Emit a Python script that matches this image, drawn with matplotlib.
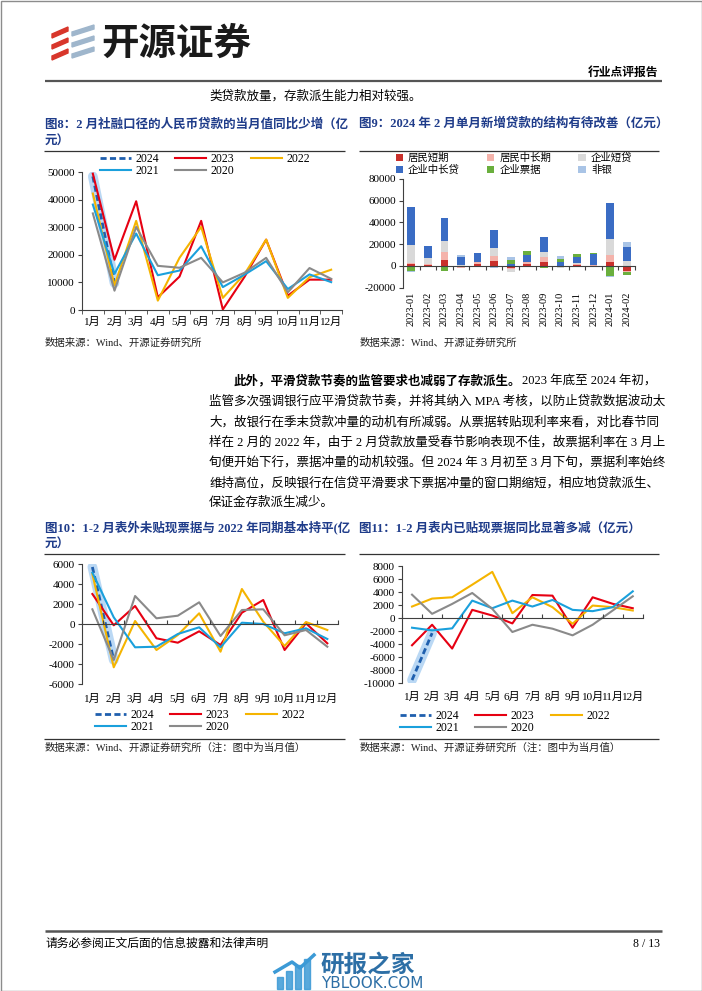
import numpy as np
import matplotlib
matplotlib.use("Agg")
import matplotlib.pyplot as plt
from matplotlib.patches import Polygon, Rectangle

W, H = 702, 991

plt.rcParams.update({
    "font.family": ["Liberation Serif", "Noto Sans CJK SC"],
    "font.size": 8,
    "axes.edgecolor": "#404040",
    "axes.linewidth": 0.8,
    "xtick.major.size": 3,
    "ytick.major.size": 3,
    "xtick.major.width": 0.8,
    "ytick.major.width": 0.8,
    "xtick.color": "#404040",
    "ytick.color": "#404040",
    "xtick.labelcolor": "black",
    "ytick.labelcolor": "black",
    "axes.unicode_minus": False,
})

# ---------------- data ----------------
months = ["1月", "2月", "3月", "4月", "5月", "6月", "7月", "8月", "9月", "10月", "11月", "12月"]
years = ["2024", "2023", "2022", "2021", "2020"]

# 图8 社融口径人民币贷款当月值（亿元）
loan_2024 = [48400, 9773]
loan_2023 = [49400, 18200, 39400, 4600, 12100, 32300, 200, 12000, 25500, 5200, 11000, 11000]
loan_2022 = [42200, 8900, 32300, 3400, 18900, 30100, 4400, 13000, 25500, 4400, 11900, 14600]
loan_2021 = [38200, 13100, 27700, 12600, 14300, 23100, 8300, 12800, 17700, 7600, 12900, 10100]
loan_2020 = [35000, 7000, 30100, 16000, 15300, 18900, 10000, 13500, 18900, 6400, 15200, 11300]

# 图9 新增贷款结构（亿元）
periods = ["2023-01", "2023-02", "2023-03", "2023-04", "2023-05", "2023-06", "2023-07",
           "2023-08", "2023-09", "2023-10", "2023-11", "2023-12", "2024-01", "2024-02"]
hh_short = [2233, 1156, 5850, 400, 1800, 4500, -1700, 2000, 3600, -1000, 800, 130, 3356, -4920]
hh_long = [339, 890, 6643, -1600, 1700, 4600, -700, 1600, 4600, -400, 1300, 930, 6445, -983]
corp_short = [17000, 5000, 10600, 600, 200, 7500, -3500, -1000, 5000, -300, 800, -1300, 14700, 4500]
corp_long = [34700, 11000, 20800, 6800, 8300, 16500, 2245, 6400, 13400, 3900, 5400, 9800, 33500, 13300]
bills = [-4843, 200, -4690, 0, -300, -500, 3630, 3500, -1500, 2500, 2700, 1100, -9222, -2700]
nonbank = [-357, -300, -300, 2000, 0, -1500, 2400, -400, -800, 3000, 0, 0, -700, 4000]
struct_labels = ["居民短期", "居民中长期", "企业短贷", "企业中长贷", "企业票据", "非银"]

# 图10 表外未贴现票据当月值（亿元）
undisc_2024 = [5700, -3600]
undisc_2023 = [3000, -130, 1800, -1430, -1870, -730, -2100, 1130, 2400, -2600, 70, -1930]
undisc_2022 = [5000, -4330, 300, -2600, -1100, 1070, -2770, 3500, 230, -2200, 200, -600]
undisc_2021 = [5130, 670, -2330, -2270, -1000, -330, -2330, 130, 0, -930, -430, -1500]
undisc_2020 = [1470, -3600, 2800, 570, 830, 2170, -1200, 1400, 1470, -1130, -600, -2270]

# 图11 表内已贴现票据当月值（亿元）
disc_2024 = [-9500, -2300]
disc_2023 = [-4160, -1015, -4670, 1270, 400, -810, 3550, 3450, -1470, 3200, 2200, 1520]
disc_2022 = [1780, 3000, 3200, 5130, 7100, 760, 3200, 1680, -860, 1930, 1680, 1170]
disc_2021 = [-1470, -1880, -1570, 2690, 1520, 2690, 1780, 2790, 1270, 1070, 1680, 4110]
disc_2020 = [3600, 660, 2180, 3860, 1420, -2130, -1015, -1620, -2640, -1015, 1170, 3350]

# ---------------- style ----------------
NAVY = "#1F3C8A"
C24, GLOW = "#1F5FAE", "#A9CFF2"
C23, C22, C21, C20 = "#E60012", "#F5B400", "#1AA0DC", "#8A8A8A"
BAR_COLORS = ["#C9302C", "#F4B3AB", "#D9D9D9", "#3A6CC4", "#6AAF3D", "#A9C4E6"]
CJK = "Noto Sans CJK SC"


def rect(l, t, r, b):
    return [l / W, 1 - b / H, (r - l) / W, (b - t) / H]


fig = plt.figure(figsize=(W / 100, H / 100), dpi=100)
page = fig.add_axes([0, 0, 1, 1])
page.set_xlim(0, W)
page.set_ylim(H, 0)
page.axis("off")


def hline(x0, x1, y, lw=0.9, color="#333333"):
    page.plot([x0, x1], [y, y], color=color, lw=lw, solid_capstyle="butt")


def title(x, ys, lines):
    for y, s in zip(ys, lines):
        page.text(x, y, s, color=NAVY, fontsize=9, fontweight="bold", va="center")


def source(x, y, s):
    page.text(x, y, s, fontsize=7.5, va="center", color="#222222")


def zero_axis(ax, n, direction):
    ax2 = ax.twiny()
    ax2.set_xlim(ax.get_xlim())
    for side in ["top", "right", "left"]:
        ax2.spines[side].set_visible(False)
    ax2.spines["bottom"].set_visible(True)
    ax2.spines["bottom"].set_position(("data", 0))
    ax2.xaxis.set_ticks_position("bottom")
    b = np.arange(-0.5, n, 1)
    ax2.set_xticks(b, labels=[""] * len(b))
    ax2.tick_params(axis="x", direction=direction, length=3)


def line_chart(r, series, ylim, yticks, zero_line, label_pad):
    ax = fig.add_axes(r)
    ax.set_facecolor("none")
    x = np.arange(12)
    v24 = series[0]
    ax.plot(x[:len(v24)], v24, color=GLOW, lw=7, alpha=0.8, solid_capstyle="round", zorder=1)
    handles = []
    h, = ax.plot(x[:len(v24)], v24, color=C24, lw=2, ls=(0, (2.2, 1.2)), zorder=2, label=years[0])
    handles.append(h)
    for vals, c, lab in zip(series[1:], [C23, C22, C21, C20], years[1:]):
        h, = ax.plot(x, vals, color=c, lw=1.5, zorder=3, label=lab)
        handles.append(h)
    ax.set_xlim(-0.5, 11.5)
    ax.set_ylim(*ylim)
    ax.set_yticks(yticks)
    ax.tick_params(axis="y", labelsize=8, pad=2)
    ax.set_xticks(x, labels=months)
    ax.tick_params(axis="x", length=0, labelsize=8, pad=label_pad)
    ax.spines["top"].set_visible(False)
    ax.spines["right"].set_visible(False)
    if zero_line:
        ax.spines["bottom"].set_visible(False)
        zero_axis(ax, 12, "in")
    else:
        ax.set_xticks(np.arange(-0.5, 12, 1), minor=True)
        ax.tick_params(axis="x", which="minor", length=3, direction="out")
    return ax, handles


def line_legend(ax, handles, cx, cy):
    order = [0, 3, 1, 4, 2]
    ax.legend([handles[i] for i in order], [years[i] for i in order], ncol=3,
              loc="center", bbox_to_anchor=(cx / W, 1 - cy / H), bbox_transform=fig.transFigure,
              frameon=False, fontsize=8.5, handlelength=2.6, handletextpad=0.4,
              columnspacing=1.4, labelspacing=0.05, borderpad=0)


# ---------------- header ----------------
page.add_patch(Rectangle((0.5, 0.5), W - 1, H - 1, fill=False, ec="#8C8C8C", lw=1))
for k in range(3):
    y0 = 27 + k * 11
    page.add_patch(Polygon([[52, y0 + 7], [68, y0], [68, y0 + 4], [52, y0 + 11]], color="#D8362B"))
    page.add_patch(Polygon([[72, y0 + 5], [94, y0 - 2], [94, y0 + 2], [72, y0 + 9]], color="#9FB6CC"))
page.text(101, 43, "开源证券", fontsize=27, fontweight="heavy", family=CJK, va="center", color="#1A1A1A")
page.text(658, 73, "行业点评报告", fontsize=8.5, fontweight="bold", ha="right", va="center")
hline(45, 662, 81, lw=1.6, color="#555555")
page.text(209, 96, "类贷款放量，存款派生能力相对较强。", fontsize=9, va="center")

# ---------------- 图8 ----------------
title(45, [124, 142], ["图8：2 月社融口径的人民币贷款的当月值同比少增（亿", "元）"])
hline(44, 345, 151)
ax8, h8 = line_chart(rect(82, 172, 342, 310),
                     [loan_2024, loan_2023, loan_2022, loan_2021, loan_2020],
                     (0, 50000), np.arange(0, 50001, 10000), False, 5)
line_legend(ax8, h8, 205, 165)
source(45, 343, "数据来源：Wind、开源证券研究所")

# ---------------- 图9 ----------------
title(359, [124], ["图9：2024 年 2 月单月新增贷款的结构有待改善（亿元）"])
hline(359, 659, 151)
ax9 = fig.add_axes(rect(403, 179, 635, 287.7))
ax9.set_facecolor("none")
xb = np.arange(len(periods))
pos = np.zeros(len(periods))
neg = np.zeros(len(periods))
bar_handles = []
for vals, c, lab in zip([hh_short, hh_long, corp_short, corp_long, bills, nonbank], BAR_COLORS, struct_labels):
    v = np.array(vals, dtype=float)
    base = np.where(v >= 0, pos, neg)
    b = ax9.bar(xb, v, bottom=base, width=0.47, color=c, label=lab, zorder=2)
    bar_handles.append(b)
    pos += np.clip(v, 0, None)
    neg += np.clip(v, None, 0)
ax9.set_xlim(-0.5, len(periods) - 0.5)
ax9.set_ylim(-20000, 80000)
ax9.set_yticks(np.arange(-20000, 80001, 20000))
ax9.tick_params(axis="y", labelsize=8, pad=2)
ax9.set_xticks(xb, labels=periods, rotation=90)
ax9.tick_params(axis="x", length=0, labelsize=7.5, pad=3)
for side in ["top", "right", "bottom"]:
    ax9.spines[side].set_visible(False)
zero_axis(ax9, len(periods), "out")
order9 = [0, 3, 1, 4, 2, 5]
ax9.legend([bar_handles[i] for i in order9], [struct_labels[i] for i in order9], ncol=3,
           loc="center", bbox_to_anchor=(514 / W, 1 - 164 / H), bbox_transform=fig.transFigure,
           frameon=False, fontsize=7.5, handlelength=0.7, handleheight=0.7, handletextpad=0.5,
           columnspacing=2.6, labelspacing=0.2, borderpad=0)
source(360, 343, "数据来源：Wind、开源证券研究所")

# ---------------- 正文 ----------------
body_y = [381, 401, 422, 442, 462, 483, 503]
t1 = page.text(234, body_y[0], "此外，平滑贷款节奏的监管要求也减弱了存款派生。", fontsize=9,
               fontweight="bold", va="center")
page.annotate("2023 年底至 2024 年初，", xy=(1, 0.5), xycoords=t1, fontsize=9, va="center")
body = [
    "监管多次强调银行应平滑贷款节奏，并将其纳入 MPA 考核，以防止贷款数据波动太",
    "大，故银行在季末贷款冲量的动机有所减弱。从票据转贴现利率来看，对比春节同",
    "样在 2 月的 2022 年，由于 2 月贷款放量受春节影响表现不佳，故票据利率在 3 月上",
    "旬便开始下行，票据冲量的动机较强。但 2024 年 3 月初至 3 月下旬，票据利率始终",
    "维持高位，反映银行在信贷平滑要求下票据冲量的窗口期缩短，相应地贷款派生、",
    "保证金存款派生减少。",
]
for y, s in zip(body_y[1:], body):
    page.text(209, y, s, fontsize=9, va="center")

# ---------------- 图10 ----------------
title(45, [527, 545], ["图10：1-2 月表外未贴现票据与 2022 年同期基本持平(亿", "元）"])
hline(44, 345, 554)
ax10, h10 = line_chart(rect(81.7, 564, 338, 684),
                       [undisc_2024, undisc_2023, undisc_2022, undisc_2021, undisc_2020],
                       (-6000, 6000), np.arange(-6000, 6001, 2000), True, 7)
line_legend(ax10, h10, 200, 721)
hline(44, 345, 739)
source(45, 748, "数据来源：Wind、开源证券研究所（注：图中为当月值）")

# ---------------- 图11 ----------------
title(359, [529], ["图11：1-2 月表内已贴现票据同比显著多减（亿元）"])
hline(359, 659, 554)
ax11, h11 = line_chart(rect(402, 566, 642.8, 683.3),
                       [disc_2024, disc_2023, disc_2022, disc_2021, disc_2020],
                       (-10000, 8000), np.arange(-10000, 8001, 2000), True, 6)
line_legend(ax11, h11, 505, 722)
hline(359, 659, 739)
source(360, 748, "数据来源：Wind、开源证券研究所（注：图中为当月值）")

# ---------------- footer ----------------
hline(45, 662, 931, lw=1.8, color="#555555")
page.text(45, 944, "请务必参阅正文后面的信息披露和法律声明", fontsize=8.5, va="center")
page.text(660, 944, "8 / 13", fontsize=8.5, ha="right", va="center")
for k, hgt in enumerate([12, 18, 24, 30]):
    page.add_patch(Rectangle((277 + k * 9, 989 - hgt), 6, hgt, color="#3C9AD6", alpha=0.85))
page.plot([275, 292, 300, 314], [972, 962, 968, 955], color="#3C9AD6", lw=2.5)
page.text(320, 965, "研报之家", fontsize=17, fontweight="bold", family=CJK, color="#2D6FA6", va="center")
page.text(321, 984, "YBLOOK.COM", fontsize=11, family="DejaVu Sans", color="#2D6FA6", va="center")

fig.savefig("out.png", dpi=100)
